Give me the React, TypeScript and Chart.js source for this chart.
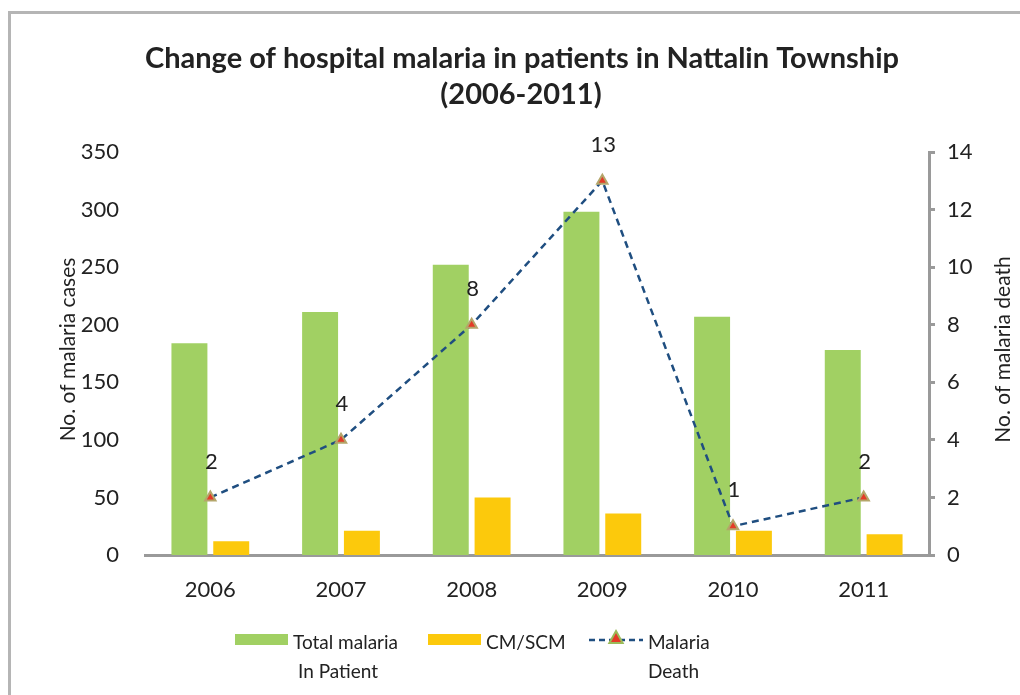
import React, { useEffect, useRef } from 'react';
import { Chart, registerables } from 'chart.js';

Chart.register(...registerables);

const years = ['2006', '2007', '2008', '2009', '2010', '2011'];
const totalInPatient = [184, 211, 252, 298, 207, 178];
const cmScm = [12, 21, 50, 36, 21, 18];
const malariaDeath = [2, 4, 8, 13, 1, 2];

const titleLines = ['Change of hospital malaria in patients in Nattalin Township', '(2006-2011)'];
const leftAxisTitle = 'No. of malaria cases';
const rightAxisTitle = 'No. of malaria death';
const legendGreen = ['Total malaria', 'In Patient'];
const legendYellow = ['CM/SCM'];
const legendLine = ['Malaria', 'Death'];

const FONT = 'Lato, "Open Sans", sans-serif';
const TEXT = '#222222';
const GREEN = '#a1d063';
const YELLOW = '#fcc90c';
const BLUE = '#1f4e80';
const AXIS = '#9a9a9a';

function drawTriangle(ctx: CanvasRenderingContext2D, x: number, y: number, r: number) {
  ctx.beginPath();
  ctx.moveTo(x, y - r);
  ctx.lineTo(x + r * 0.95, y + r * 0.7);
  ctx.lineTo(x - r * 0.95, y + r * 0.7);
  ctx.closePath();
  ctx.fillStyle = '#e43b28';
  ctx.fill();
  ctx.lineWidth = 2;
  ctx.strokeStyle = '#9bbb59';
  ctx.stroke();
}

const decor = {
  id: 'decor',
  afterDatasetsDraw(chart: any) {
    const ctx = chart.ctx as CanvasRenderingContext2D;
    const meta = chart.getDatasetMeta(2);
    ctx.save();
    ctx.font = `22px ${FONT}`;
    ctx.fillStyle = TEXT;
    ctx.textAlign = 'center';
    ctx.textBaseline = 'middle';
    meta.data.forEach((pt: any, i: number) => {
      ctx.fillText(String(malariaDeath[i]), pt.x + 1, pt.y - 36);
    });
    ctx.restore();
  },
  afterDraw(chart: any) {
    const ctx = chart.ctx as CanvasRenderingContext2D;
    const area = chart.chartArea;
    ctx.save();
    // title
    ctx.fillStyle = TEXT;
    ctx.textAlign = 'center';
    ctx.textBaseline = 'middle';
    ctx.font = `bold 29px ${FONT}`;
    ctx.fillText(titleLines[0], 522, 59);
    ctx.fillText(titleLines[1], 521, 95);

    // axis titles
    ctx.font = `21px ${FONT}`;
    const midY = (area.top + area.bottom) / 2 - 4;
    ctx.save();
    ctx.translate(68, midY);
    ctx.rotate(-Math.PI / 2);
    ctx.fillText(leftAxisTitle, 0, 0);
    ctx.restore();
    ctx.save();
    ctx.translate(1003, midY);
    ctx.rotate(-Math.PI / 2);
    ctx.fillText(rightAxisTitle, 0, 0);
    ctx.restore();

    // legend
    ctx.textAlign = 'left';
    ctx.font = `19px ${FONT}`;
    const y1 = 643;
    const y2 = 672;
    ctx.fillStyle = GREEN;
    ctx.fillRect(235, 634, 53, 11);
    ctx.fillStyle = TEXT;
    ctx.fillText(legendGreen[0], 293, y1);
    ctx.fillText(legendGreen[1], 298, y2);

    ctx.fillStyle = YELLOW;
    ctx.fillRect(428, 634, 53, 11);
    ctx.fillStyle = TEXT;
    ctx.fillText(legendYellow[0], 486, y1);

    ctx.strokeStyle = BLUE;
    ctx.lineWidth = 2.5;
    ctx.setLineDash([6, 4]);
    ctx.beginPath();
    ctx.moveTo(589, 640);
    ctx.lineTo(643, 640);
    ctx.stroke();
    ctx.setLineDash([]);
    drawTriangle(ctx, 616, 638, 7);
    ctx.fillStyle = TEXT;
    ctx.fillText(legendLine[0], 648, y1);
    ctx.fillText(legendLine[1], 648, y2);
    ctx.restore();
  },
};

export default function App() {
  const ref = useRef<HTMLCanvasElement>(null);
  useEffect(() => {
    const chart = new Chart(ref.current as HTMLCanvasElement, {
      type: 'bar',
      data: {
        labels: years,
        datasets: [
          {
            type: 'bar',
            label: 'Total malaria In Patient',
            data: totalInPatient,
            backgroundColor: GREEN,
            yAxisID: 'y',
            order: 2,
            categoryPercentage: 0.64,
            barPercentage: 0.86,
          },
          {
            type: 'bar',
            label: 'CM/SCM',
            data: cmScm,
            backgroundColor: YELLOW,
            yAxisID: 'y',
            order: 2,
            categoryPercentage: 0.64,
            barPercentage: 0.86,
          },
          {
            type: 'line',
            label: 'Malaria Death',
            data: malariaDeath,
            yAxisID: 'y1',
            order: 0,
            borderColor: BLUE,
            borderWidth: 2.5,
            borderDash: [7, 5],
            pointStyle: 'triangle',
            pointRadius: 6,
            pointBackgroundColor: '#e43b28',
            pointBorderColor: '#b4a56a',
            pointBorderWidth: 2,
            tension: 0,
            fill: false,
          } as any,
        ],
      },
      options: {
        responsive: false,
        animation: false,
        devicePixelRatio: 1,
        layout: { padding: { top: 152, left: 0, right: 0, bottom: 0 } },
        plugins: {
          legend: { display: false },
          title: { display: false },
          tooltip: { enabled: false },
        },
        scales: {
          x: {
            grid: { display: false },
            border: { display: true, color: AXIS, width: 3 },
            ticks: { color: TEXT, font: { family: FONT, size: 22 }, padding: 14 },
            afterFit: (s: any) => { s.height = 140; },
          },
          y: {
            position: 'left',
            min: 0,
            max: 350,
            ticks: { stepSize: 50, color: TEXT, font: { family: FONT, size: 22 }, padding: 18 },
            grid: { display: false },
            border: { display: false },
            afterFit: (s: any) => { s.width = 145; },
          },
          y1: {
            position: 'right',
            min: 0,
            max: 14,
            ticks: { stepSize: 2, color: TEXT, font: { family: FONT, size: 22 }, padding: 12 },
            grid: { drawOnChartArea: false, drawTicks: true, tickLength: 6, color: AXIS, lineWidth: 3 },
            border: { display: true, color: AXIS, width: 3 },
            afterFit: (s: any) => { s.width = 91; },
          },
        },
      } as any,
      plugins: [decor],
    });
    return () => chart.destroy();
  }, []);
  return (
    <div style={{ position: 'fixed', left: 0, top: 0, width: 1020, height: 695, overflow: 'hidden', background: '#fff' }}>
      <div style={{ position: 'absolute', left: 8, top: 11, width: 1100, height: 800, borderLeft: '3px solid #b5b5b5', borderTop: '3px solid #b5b5b5' }} />
      <div style={{ position: 'absolute', left: 0, top: 0, width: 1020, height: 695 }}>
        <canvas ref={ref} width={1020} height={695} />
      </div>
    </div>
  );
}
